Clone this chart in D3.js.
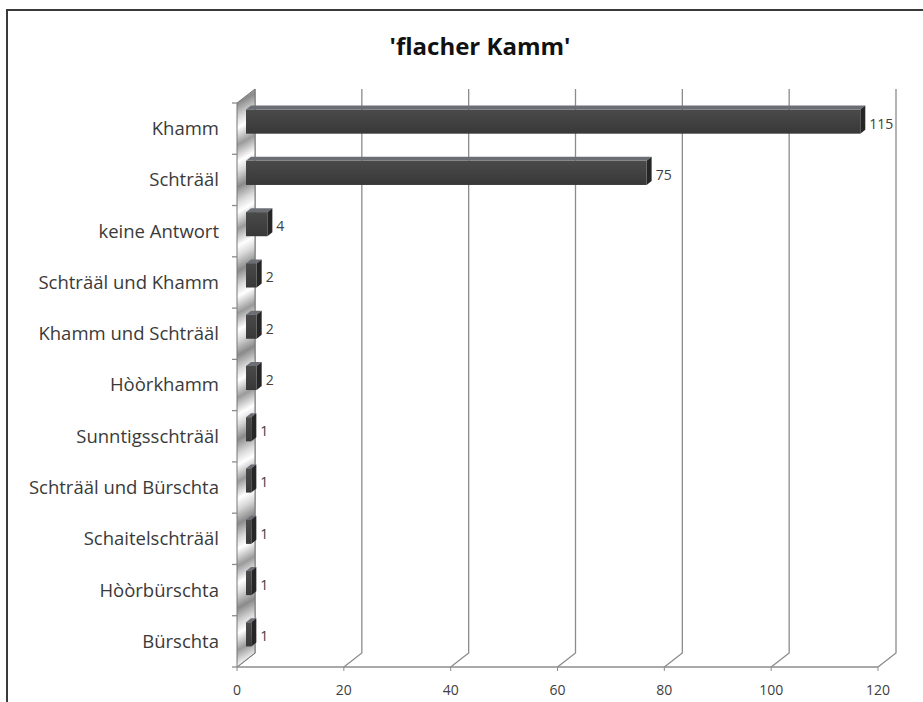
<!DOCTYPE html>
<html>
<head>
<meta charset="utf-8">
<script src="https://cdn.jsdelivr.net/npm/d3@7/dist/d3.min.js"></script>
<style>
  body { margin: 0; background: #fff; }
  svg { display: block; font-family: "Open Sans", "Noto Sans", sans-serif; }
</style>
</head>
<body>
<div id="chart"></div>
<script>
// data
const categories = [
  "Khamm", "Schträäl", "keine Antwort", "Schträäl und Khamm", "Khamm und Schträäl",
  "Hòòrkhamm", "Sunntigsschträäl", "Schträäl und Bürschta", "Schaitelschträäl",
  "Hòòrbürschta", "Bürschta"
];
const counts = [115, 75, 4, 2, 2, 2, 1, 1, 1, 1, 1];
const xTicks = [0, 20, 40, 60, 80, 100, 120];
const title = "'flacher Kamm'";

const width = 923, height = 702;
const depth = { dx: 18, dy: -14 };      // floor / wall depth
const barDepth = { dx: 5, dy: -4 };     // depth of each bar

const svg = d3.select("#chart").append("svg")
    .attr("width", width)
    .attr("height", height);

const defs = svg.append("defs");

// metallic stripes on the side wall
const wallGrad = defs.append("linearGradient")
    .attr("id", "wallGrad")
    .attr("gradientUnits", "userSpaceOnUse")
    .attr("x1", 237).attr("y1", 103)
    .attr("x2", 255).attr("y2", 135)
    .attr("spreadMethod", "reflect");
[["0%", "#8a8a8a"], ["35%", "#d8d8d8"], ["60%", "#ffffff"], ["100%", "#9a9a9a"]]
    .forEach(([o, c]) => wallGrad.append("stop").attr("offset", o).attr("stop-color", c));

const barGrad = defs.append("linearGradient")
    .attr("id", "barGrad").attr("x1", 0).attr("y1", 0).attr("x2", 0).attr("y2", 1);
barGrad.append("stop").attr("offset", "0%").attr("stop-color", "#4a4a4a");
barGrad.append("stop").attr("offset", "100%").attr("stop-color", "#383838");

// figure frame (top and left edges visible)
svg.append("path")
    .attr("d", "M7,702 L7,10 L923,10")
    .attr("fill", "none")
    .attr("stroke", "#3a3a3a")
    .attr("stroke-width", 2);

svg.append("text")
    .attr("x", 480).attr("y", 55)
    .attr("text-anchor", "middle")
    .attr("font-size", 24)
    .attr("font-weight", "bold")
    .attr("fill", "#111")
    .text(title);

const x = d3.scaleLinear().domain([0, 120]).range([237, 878]);
const y = d3.scaleBand().domain(categories).range([103, 667]).paddingInner(0.53).paddingOuter(0.265);
const yFull = d3.scaleBand().domain(categories).range([103, 667]);

const yTop = 103, yBottom = 667;

// back-wall gridlines with their floor diagonals
const grid = svg.append("g").attr("fill", "none").attr("stroke", "#8c8c8c").attr("stroke-width", 1.3);
xTicks.forEach(t => {
    const fx = x(t);
    grid.append("path")
        .attr("d", `M${fx},${yBottom} L${fx + depth.dx},${yBottom + depth.dy} L${fx + depth.dx},${yTop + depth.dy}`);
});

// side wall
svg.append("path")
    .attr("d", `M${x(0)},${yBottom} L${x(0)},${yTop} L${x(0) + depth.dx},${yTop + depth.dy} L${x(0) + depth.dx},${yBottom + depth.dy} Z`)
    .attr("fill", "url(#wallGrad)")
    .attr("stroke", "#777")
    .attr("stroke-width", 1);

// floor front edge
svg.append("line")
    .attr("x1", x(0)).attr("x2", x(120))
    .attr("y1", yBottom).attr("y2", yBottom)
    .attr("stroke", "#8c8c8c").attr("stroke-width", 1.3);

// x ticks and labels
const xAxis = svg.append("g");
xTicks.forEach(t => {
    xAxis.append("line")
        .attr("x1", x(t)).attr("x2", x(t))
        .attr("y1", yBottom).attr("y2", yBottom + 4)
        .attr("stroke", "#8c8c8c");
    xAxis.append("text")
        .attr("x", x(t)).attr("y", 695)
        .attr("text-anchor", "middle")
        .attr("font-size", 14)
        .attr("fill", "#404040")
        .text(t);
});

// y ticks on the wall edge
categories.concat([null]).forEach(c => {
    const ty = c ? yFull(c) : yBottom;
    svg.append("line")
        .attr("x1", x(0) - 5).attr("x2", x(0))
        .attr("y1", ty).attr("y2", ty)
        .attr("stroke", "#8c8c8c").attr("stroke-width", 1.3);
});

// category labels
svg.append("g").selectAll("text")
    .data(categories)
    .join("text")
    .attr("x", 219)
    .attr("y", d => yFull(d) + yFull.bandwidth() / 2)
    .attr("dy", "0.35em")
    .attr("text-anchor", "end")
    .attr("font-size", 18.5)
    .attr("fill", "#3a3a3a")
    .text(d => d);

// bars at mid depth
const ox = depth.dx / 2, oy = depth.dy / 2;
const bars = svg.append("g").selectAll("g")
    .data(categories.map((c, i) => ({ c, v: counts[i] })))
    .join("g");

bars.each(function (d) {
    const g = d3.select(this);
    const x0 = x(0) + ox, x1 = x(d.v) + ox;
    const y0 = y(d.c) + oy, h = y.bandwidth();
    // top face
    g.append("path")
        .attr("d", `M${x0},${y0} L${x0 + barDepth.dx},${y0 + barDepth.dy} L${x1 + barDepth.dx},${y0 + barDepth.dy} L${x1},${y0} Z`)
        .attr("fill", "#6b6f75");
    // right side face
    g.append("path")
        .attr("d", `M${x1},${y0} L${x1 + barDepth.dx},${y0 + barDepth.dy} L${x1 + barDepth.dx},${y0 + h + barDepth.dy} L${x1},${y0 + h} Z`)
        .attr("fill", "#262626");
    // front face
    g.append("rect")
        .attr("x", x0).attr("y", y0)
        .attr("width", x1 - x0).attr("height", h)
        .attr("fill", "url(#barGrad)");
    // value label
    g.append("text")
        .attr("x", x1 + barDepth.dx + 4)
        .attr("y", y0 + h / 2 + 2)
        .attr("dy", "0.35em")
        .attr("font-size", 14)
        .attr("fill", "#404040")
        .text(d.v);
});
</script>
</body>
</html>
